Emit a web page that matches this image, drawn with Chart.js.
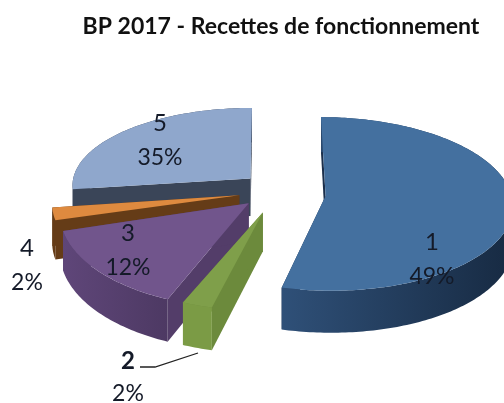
<!DOCTYPE html>
<html>
<head>
<meta charset="utf-8">
<style>
  html, body { margin: 0; padding: 0; background: #fff; }
  canvas { display: block; filter: blur(0.5px); }
</style>
<script src="https://cdn.jsdelivr.net/npm/chart.js@4"></script>
</head>
<body>
<canvas id="myChart" width="504" height="403"></canvas>
<script>
const categories = ["1", "2", "3", "4", "5"];
const values = [49, 2, 12, 2, 35];
const percentLabels = ["49%", "2%", "12%", "2%", "35%"];
const chartTitle = "BP 2017 - Recettes de fonctionnement";

// slice styles
const explode = [29, 26, 16, 18, 12];
const nudge = [[2, 3], [8, 1], [1, 4], [2, 2], [-3, -5]];
const radiusScale = [[1, 1], [1, 1], [1, 1.08], [1, 1], [0.97, 0.92]];
const topColors = ["#44709f", "#7f9f4a", "#71558c", "#de8a3f", "#8fa7cc"];
const sideColors = ["#1b2f4b", "#6c8a3c", "#533d69", "#653c17", "#3a4558"];
const rimLeft = ["#2f5078", "#7b9b45", "#5f4679", "#653c17", "#3a4558"];
const rimRight = ["#172a42", "#7b9b45", "#4d3963", "#653c17", "#3a4558"];
const labelSpots = [[432, 242], [128, 361], [128, 233], [27, 248], [160, 123]];

// 3d view of the pie
const view = { cx: 270, cy: 190, rx: 185, ry: 85, persp: 0.09, depth: 38 };
const warp = [[0, 0], [176, 193.5], [234, 262], [360, 360]];

function warpAngle(deg) {
  for (let i = 1; i < warp.length; i++) {
    if (deg <= warp[i][0]) {
      const a = warp[i - 1], b = warp[i];
      return a[1] + (b[1] - a[1]) * (deg - a[0]) / (b[0] - a[0]);
    }
  }
  return deg;
}

function project(u, v, down) {
  const w = 1 - view.persp * v;
  return {
    x: view.cx + view.rx * u / w,
    y: view.cy + view.ry * v / w + (down ? view.depth / w : 0),
  };
}

function polygon(ctx, pts, fill) {
  ctx.beginPath();
  pts.forEach((p, i) => (i ? ctx.lineTo(p.x, p.y) : ctx.moveTo(p.x, p.y)));
  ctx.closePath();
  ctx.fillStyle = fill;
  ctx.fill();
}

function drawSlice(ctx, arc, i) {
  const start = warpAngle((arc.startAngle + Math.PI / 2) * 180 / Math.PI);
  const end = warpAngle((arc.endAngle + Math.PI / 2) * 180 / Math.PI);
  const mid = (start + end) / 2 * Math.PI / 180;
  const d = arc.options.offset / 100;
  const ou = d * Math.sin(mid) + nudge[i][0] / view.rx;
  const ov = -d * Math.cos(mid) + nudge[i][1] / view.ry;
  const [su, sv] = radiusScale[i];

  const edge = (deg, down) => {
    const a = deg * Math.PI / 180;
    return project(ou + su * Math.sin(a), ov - sv * Math.cos(a), down);
  };
  const apexTop = project(ou, ov, false), apexLow = project(ou, ov, true);
  const topArc = [], lowArc = [];
  for (let deg = start; deg < end; deg += 1) {
    topArc.push(edge(deg, false));
    lowArc.push(edge(deg, true));
  }
  topArc.push(edge(end, false));
  lowArc.push(edge(end, true));

  polygon(ctx, [apexTop, topArc[0], lowArc[0], apexLow], sideColors[i]);
  polygon(ctx, [apexTop, topArc[topArc.length - 1], lowArc[lowArc.length - 1], apexLow], sideColors[i]);

  const xs = topArc.map(p => p.x);
  const grad = ctx.createLinearGradient(Math.min(...xs), 0, Math.max(...xs), 0);
  grad.addColorStop(0, rimLeft[i]);
  grad.addColorStop(1, rimRight[i]);
  polygon(ctx, topArc.concat(lowArc.slice().reverse()), grad);

  polygon(ctx, [apexTop].concat(topArc), arc.options.backgroundColor);
}

const pie3d = {
  id: "pie3d",
  beforeDatasetsDraw(chart) {
    const ctx = chart.ctx;
    const arcs = chart.getDatasetMeta(0).data;
    ctx.save();
    for (let i = arcs.length - 1; i >= 0; i--) drawSlice(ctx, arcs[i], i);

    // leader line of slice 2
    ctx.strokeStyle = "#222";
    ctx.lineWidth = 1.3;
    ctx.beginPath();
    ctx.moveTo(140, 367);
    ctx.lineTo(155, 367);
    ctx.lineTo(198, 353);
    ctx.stroke();

    // data labels
    ctx.textAlign = "center";
    ctx.textBaseline = "middle";
    ctx.fillStyle = "#141a28";
    categories.forEach((name, i) => {
      const [x, y] = labelSpots[i];
      ctx.font = (i === 1 ? "bold " : "") + "24px Lato";
      ctx.fillText(name, x, y);
      ctx.font = "23px Lato";
      ctx.fillText(percentLabels[i], x, y + (i === 1 ? 33 : 35));
    });
    ctx.restore();
    return false;
  },
};

new Chart(document.getElementById("myChart"), {
  type: "pie",
  data: {
    labels: categories,
    datasets: [{
      data: values,
      backgroundColor: topColors,
      offset: explode,
      borderWidth: 0,
    }],
  },
  options: {
    responsive: false,
    animation: false,
    layout: { padding: { left: 58 } },
    plugins: {
      legend: { display: false },
      tooltip: { enabled: false },
      title: {
        display: true,
        text: chartTitle,
        fullSize: false,
        color: "#111",
        font: { family: "Lato", size: 23, weight: "bold" },
        padding: { top: 13, bottom: 10 },
      },
    },
  },
  plugins: [pie3d],
});
</script>
</body>
</html>
